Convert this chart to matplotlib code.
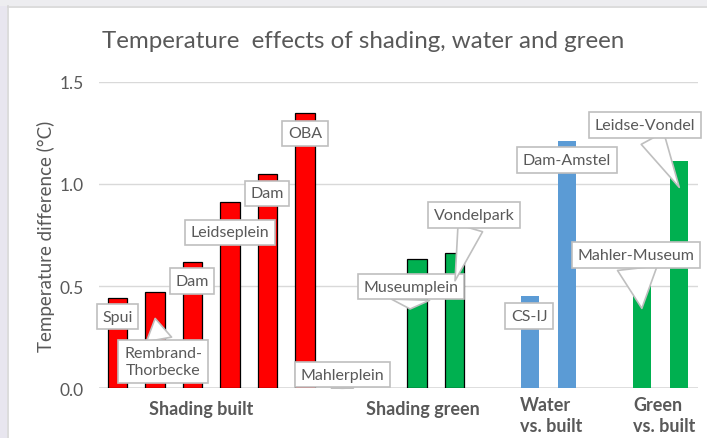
import numpy as np
import matplotlib
matplotlib.use("Agg")
import matplotlib.pyplot as plt
from matplotlib.patches import Rectangle
from matplotlib.transforms import blended_transform_factory

plt.rcParams['font.family'] = ['Lato', 'DejaVu Sans']

# data: 16 slots, some empty
shading_built_x = [0, 1, 2, 3, 4, 5, 6]
shading_built = [0.44, 0.47, 0.62, 0.91, 1.05, 1.345, 0.0]
shading_built_names = ['Spui', 'Rembrand-\nThorbecke', 'Dam', 'Leidseplein', 'Dam', 'OBA', 'Mahlerplein']

shading_green_x = [8, 9]
shading_green = [0.632, 0.66]
shading_green_names = ['Museumplein', 'Vondelpark']

water_x = [11, 12]
water = [0.45, 1.21]
water_names = ['CS-IJ', 'Dam-Amstel']

green_x = [14, 15]
green = [0.52, 1.113]
green_names = ['Mahler-Museum', 'Leidse-Vondel']

group_names = ['Shading built', 'Shading green', 'Water\nvs. built', 'Green\nvs. built']

gray = '#595959'
edge = '#BFBFBF'

fig = plt.figure(figsize=(7.07, 4.39), dpi=100)
fig.patch.set_facecolor('white')
# frame of the screenshot
fig.patches.append(Rectangle((0, 0), 7/707, 1, transform=fig.transFigure, fc='#E8E6EF', ec='none', zorder=0))
fig.patches.append(Rectangle((0, 1 - 7/439), 1, 7/439, transform=fig.transFigure, fc='#EDEDF0', ec='none', zorder=0))
fig.lines.append(plt.Line2D([7.5/707, 7.5/707], [0, 1 - 7/439], transform=fig.transFigure, color='#D6D6D6', lw=1.2))
fig.lines.append(plt.Line2D([7.5/707, 1], [1 - 7.5/439, 1 - 7.5/439], transform=fig.transFigure, color='#D6D6D6', lw=1.2))

ax = fig.add_axes([99/707, 49.7/439, 599/707, 306.6/439])
ax.set_xlim(-0.5, 15.5)
ax.set_ylim(0, 1.5)
for s in ax.spines.values():
    s.set_visible(False)
ax.set_yticks([0, 0.5, 1.0, 1.5])
ax.set_yticklabels(['0.0', '0.5', '1.0', '1.5'])
ax.tick_params(axis='y', length=0, labelsize=12.5, labelcolor=gray, pad=11)
ax.set_xticks([])
ax.grid(axis='y', color='#D9D9D9', lw=1)
ax.set_axisbelow(True)
ax.axhline(0, color='#D9D9D9', lw=1.2, zorder=1)

w = 0.52
ax.bar(shading_built_x, shading_built, width=w, color='#FF0000', edgecolor='black', lw=0.9, zorder=2)
ax.bar(shading_green_x, shading_green, width=w, color='#00B050', edgecolor='black', lw=0.9, zorder=2)
ax.bar(water_x, water, width=0.48, color='#5B9BD5', zorder=2)
ax.bar(green_x, green, width=0.48, color='#00B050', zorder=2)

ax.set_ylabel('Temperature difference (°C)', color=gray, fontsize=13.5, labelpad=3)
fig.text(0.513, 0.905, 'Temperature  effects of shading, water and green', ha='center', va='center',
         color=gray, fontsize=17.4)

# callouts
names = shading_built_names + shading_green_names + water_names + green_names
box_pos = [(0.0, 0.35), (1.21, 0.131), (1.98, 0.525), (3.0, 0.764), (3.99, 0.955), (5.0, 1.248),
           (6.0, 0.067), (7.83, 0.498), (9.52, 0.848), (10.99, 0.354), (12.0, 1.117),
           (13.84, 0.652), (14.09, 1.288)]
# tail tip and tail width for the labels that have a pointer
tips = {1: (1.0, 0.342, 1.6), 6: (6.0, 0.0, 1.4), 7: (7.81, 0.388, 2.4), 8: (9.01, 0.526, 1.6),
        11: (14.0, 0.391, 2.5), 12: (15.0, 0.983, 1.6)}
bbox = dict(boxstyle='square,pad=0.35', fc='white', ec=edge, lw=1.2)
for i, name in enumerate(names):
    bx, by = box_pos[i]
    if i in tips:
        tx, ty, tw = tips[i]
        ax.annotate(name, xy=(tx, ty), xytext=(bx, by), ha='center', va='center',
                    fontsize=11.5, color=gray, bbox=bbox, zorder=5, linespacing=1.35,
                    arrowprops=dict(arrowstyle='wedge,tail_width=%.1f,shrink_factor=0.5' % tw,
                                    fc='white', ec=edge, lw=1.2, shrinkA=0, shrinkB=0))
    else:
        ax.text(bx, by, name, ha='center', va='center', fontsize=11.5, color=gray,
                bbox=bbox, zorder=5)

# group labels under the axis
tr = blended_transform_factory(ax.transData, fig.transFigure)
ax.text(2.24, 29/439, group_names[0], transform=tr, ha='center', va='center',
        fontsize=13, fontweight='bold', color=gray)
ax.text(8.15, 29/439, group_names[1], transform=tr, ha='center', va='center',
        fontsize=13, fontweight='bold', color=gray)
ax.text(10.75, 23/439, group_names[2], transform=tr, ha='left', va='center',
        fontsize=13, fontweight='bold', color=gray, linespacing=1.35)
ax.text(13.77, 23/439, group_names[3], transform=tr, ha='left', va='center',
        fontsize=13, fontweight='bold', color=gray, linespacing=1.35)

fig.savefig('out.png', dpi=100)
